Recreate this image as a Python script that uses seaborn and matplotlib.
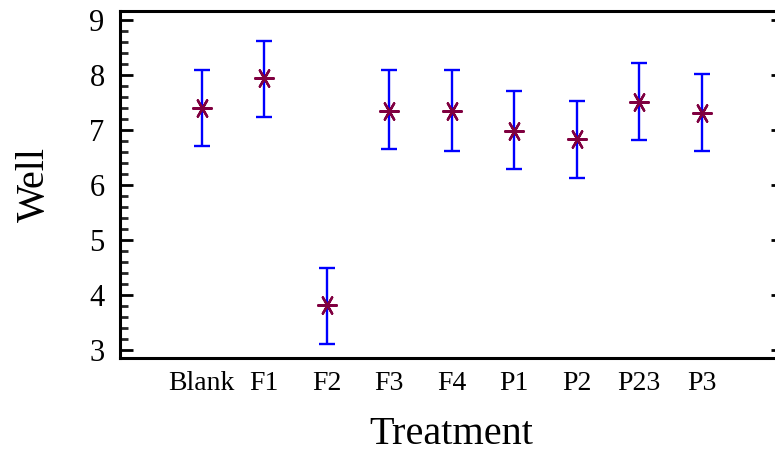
import matplotlib
matplotlib.use("Agg")
import matplotlib.pyplot as plt
from matplotlib.ticker import MultipleLocator
import seaborn as sns
import pandas as pd

categories = ["Blank", "F1", "F2", "F3", "F4", "P1", "P2", "P23", "P3"]
means = [7.40, 7.95, 3.82, 7.35, 7.35, 6.98, 6.84, 7.51, 7.31]
lower = [6.71, 7.24, 3.11, 6.65, 6.62, 6.29, 6.13, 6.82, 6.62]
upper = [8.09, 8.62, 4.49, 8.09, 8.09, 7.71, 7.53, 8.22, 8.02]
yticks = [3, 4, 5, 6, 7, 8, 9]

df = pd.DataFrame({"Treatment": categories, "Well": means,
                   "lo": lower, "hi": upper})

sns.set_theme(style="white")
plt.rcParams["font.family"] = ["Liberation Serif", "DejaVu Serif"]
plt.rcParams["text.color"] = "black"
plt.rcParams["axes.labelcolor"] = "black"

fig = plt.figure(figsize=(7.75, 4.53), dpi=100)
ax = fig.add_axes([120/775, 1-358/453, 663/775, 347/453])

ax.errorbar(df["Treatment"], df["Well"],
            yerr=[df["Well"] - df["lo"], df["hi"] - df["Well"]],
            fmt="none", ecolor="#0000ff", elinewidth=1.7, capsize=5.5,
            capthick=1.7, zorder=2)
sns.scatterplot(data=df, x="Treatment", y="Well", ax=ax, marker=(6, 2, 90),
                s=180, color="#800040", edgecolor="#800040", linewidth=1.7,
                zorder=3)

ax.set_xlim(-1.31, 9.30)
ax.set_ylim(2.855, 9.164)
ax.set_yticks(yticks)
ax.yaxis.set_minor_locator(MultipleLocator(0.2))

for s in ["left", "bottom", "top"]:
    ax.spines[s].set_linewidth(2.2)
    ax.spines[s].set_color("black")
ax.spines["right"].set_visible(False)

ax.tick_params(axis="y", which="major", direction="in", length=9, width=2,
               left=True, right=True, labelsize=22, pad=11, colors="black",
               labelcolor="black")
ax.tick_params(axis="y", which="minor", direction="in", length=6, width=2,
               left=True, right=False)
ax.tick_params(axis="x", which="both", length=0, labelsize=20, pad=9,
               colors="black", labelcolor="black")

ax.set_xlabel("Treatment", fontsize=29, labelpad=15)
ax.set_ylabel("Well", fontsize=29, labelpad=26)

fig.savefig("out.png", dpi=100)
